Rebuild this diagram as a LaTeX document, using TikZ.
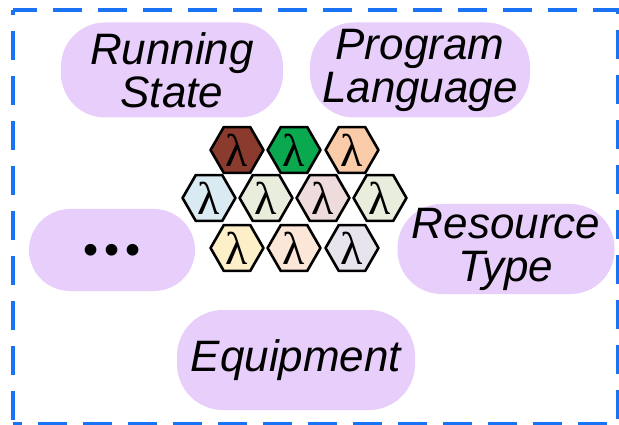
\documentclass[tikz,border=0pt]{standalone}
\usepackage{fontspec}
\setmainfont{Liberation Sans}
\newfontfamily\lamfont{Liberation Serif}
\usetikzlibrary{shapes.geometric}

\definecolor{pillfill}{HTML}{E8CEFB}
\definecolor{framecol}{HTML}{1A73F5}
\definecolor{hexA}{HTML}{8B3A2E}
\definecolor{hexB}{HTML}{0AA84F}
\definecolor{hexC}{HTML}{F9CBA8}
\definecolor{hexD}{HTML}{DAEAF2}
\definecolor{hexE}{HTML}{E9EEDC}
\definecolor{hexF}{HTML}{EEDCDC}
\definecolor{hexG}{HTML}{FDEFC8}
\definecolor{hexH}{HTML}{FCE6D8}
\definecolor{hexI}{HTML}{E8E4EE}

\begin{document}
\begin{tikzpicture}[x=1pt,y=-1pt,
  pill/.style={fill=pillfill, rounded corners=44pt, inner sep=0pt, align=center,
    font=\itshape\fontsize{44}{43}\selectfont},
  hexcell/.style={regular polygon, regular polygon sides=6, minimum size=51pt,
    inner sep=0pt, draw=black, line width=2.6pt, line join=round,
    font=\lamfont\fontsize{46}{46}\selectfont},
  framedash/.style={framecol, line width=3.6pt, dash pattern=on 29pt off 16pt}]

\useasboundingbox (0,0) rectangle (619,425);

% dashed frame, both runs starting from the top-left corner
\draw[framedash, dash phase=5pt] (13,10) -- (618,10) -- (618,424) -- (13,424);
\draw[framedash, dash phase=24pt] (13,10) -- (13,424);

% category pills
\node[pill, minimum width=222pt, minimum height=95pt] (run)  at (172,70)  {Running\\State};
\node[pill, minimum width=220pt, minimum height=95pt] (lang) at (420,70)  {Program\\Language};
\node[pill, minimum width=166pt, minimum height=82pt, rounded corners=41pt,
      font=\fontsize{43}{43}\selectfont] (more) at (112,250)
      {\raisebox{-15pt}[0pt][0pt]{•\kern6pt•\kern6pt•}};
\node[pill, minimum width=217pt, minimum height=90pt] (res)  at (506,249) {Resource\\Type};
\node[pill, minimum width=238pt, minimum height=100pt, rounded corners=46pt] (equip) at (296,360) {Equipment};

% function cells
\node[hexcell, fill=hexA] (h1) at (237,150) {λ};
\node[hexcell, fill=hexB] (h2) at (294,150) {λ};
\node[hexcell, fill=hexC] (h3) at (352,150) {λ};
\node[hexcell, fill=hexD] (h4) at (209,198) {λ};
\node[hexcell, fill=hexE] (h5) at (266,198) {λ};
\node[hexcell, fill=hexF] (h6) at (323,198) {λ};
\node[hexcell, fill=hexE] (h7) at (380,198) {λ};
\node[hexcell, fill=hexG] (h8) at (237,248) {λ};
\node[hexcell, fill=hexH] (h9) at (294,248) {λ};
\node[hexcell, fill=hexI] (h10) at (352,248) {λ};
\end{tikzpicture}
\end{document}
